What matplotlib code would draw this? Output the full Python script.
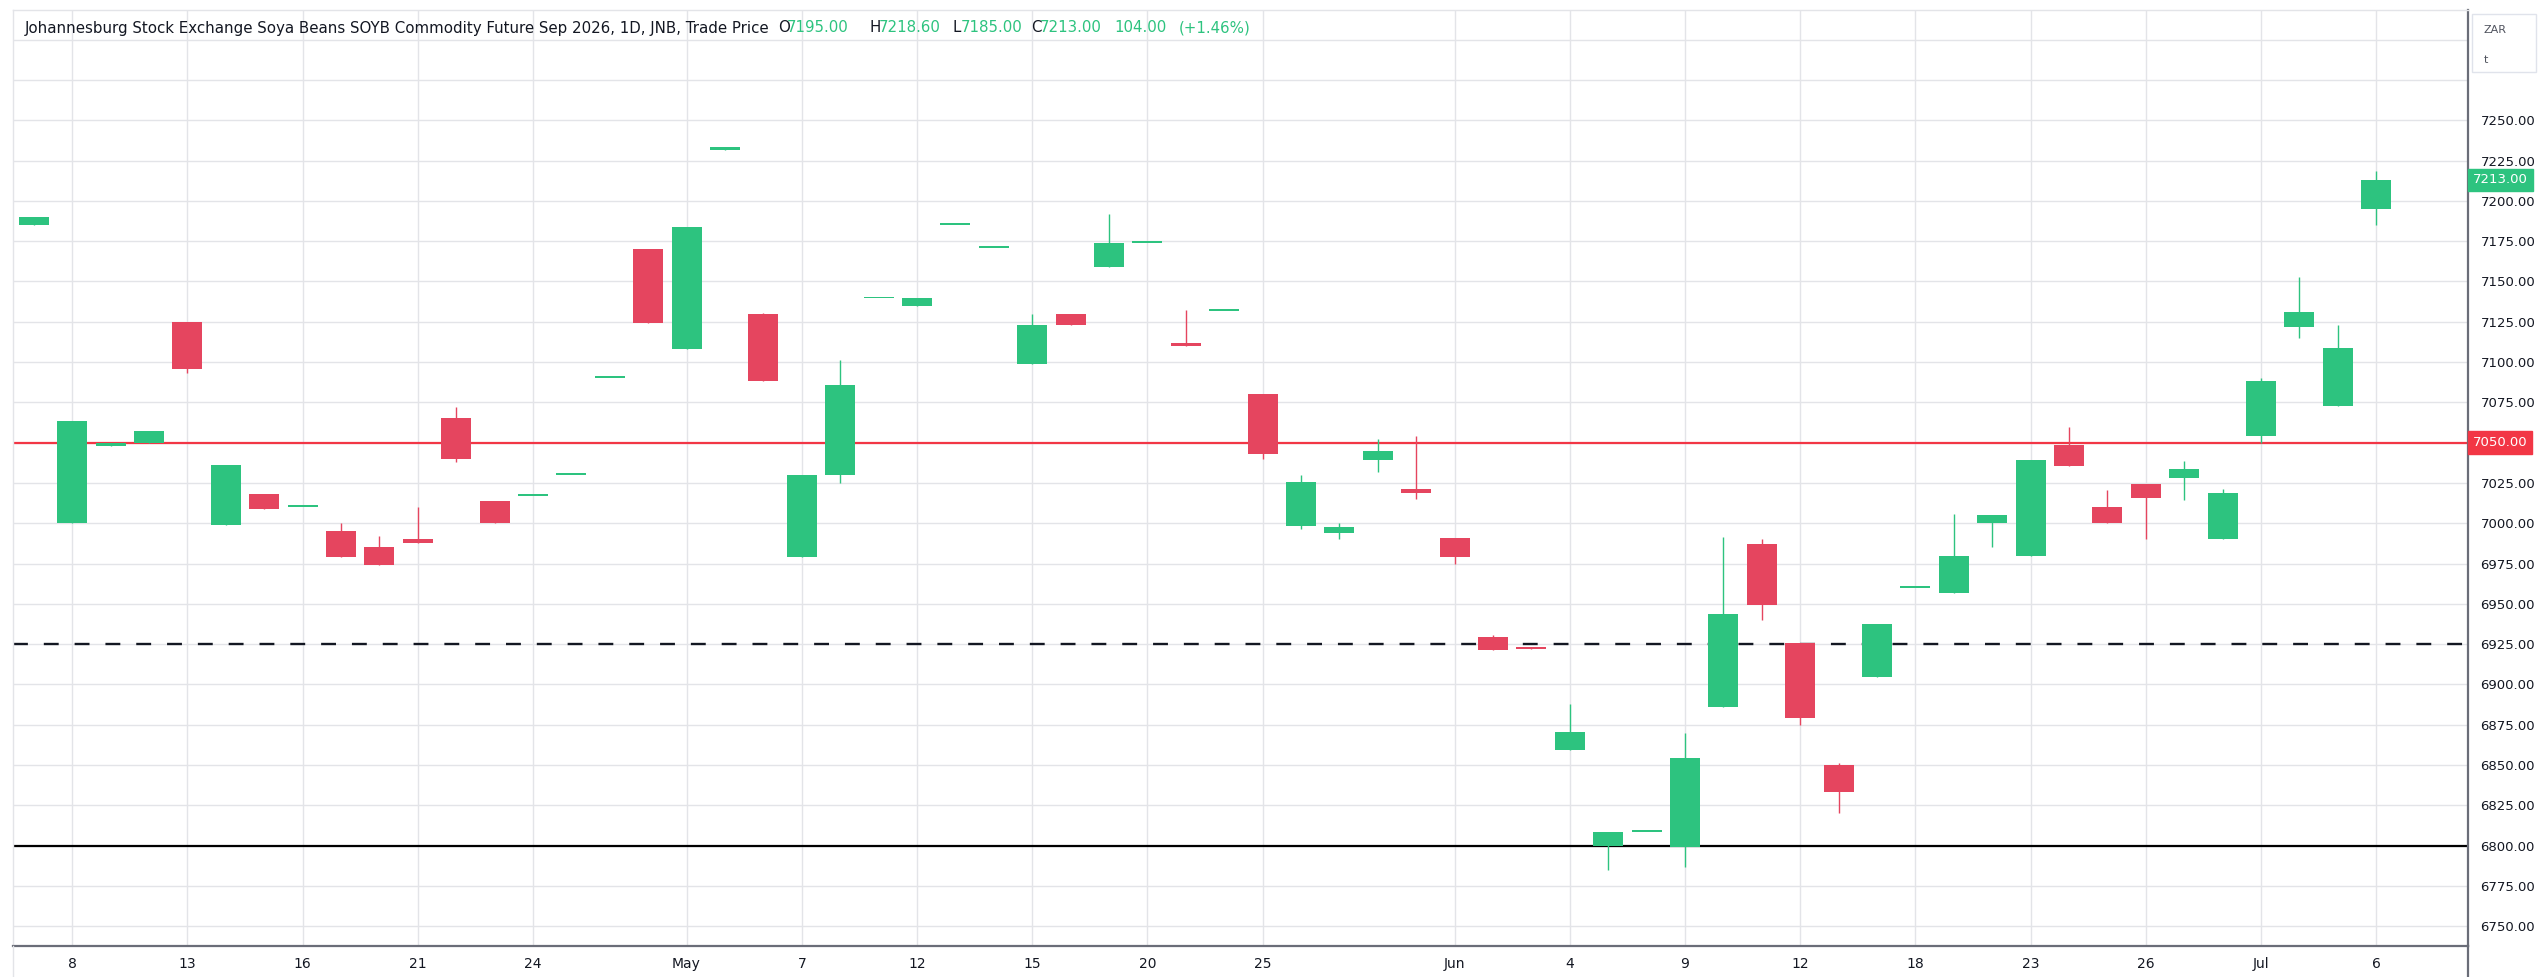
import matplotlib
matplotlib.use("Agg")
import matplotlib.pyplot as plt
import matplotlib.patches as mpatches
from matplotlib.lines import Line2D
import numpy as np

# Daily candles, JSE Soya Beans SOYB Sep 2026 future
dates = ["2026-04-07", "2026-04-08", "2026-04-09", "2026-04-10", "2026-04-13", "2026-04-14",
         "2026-04-15", "2026-04-16", "2026-04-17", "2026-04-20", "2026-04-21", "2026-04-22",
         "2026-04-23", "2026-04-24", "2026-04-28", "2026-04-29", "2026-04-30", "2026-05-04",
         "2026-05-05", "2026-05-06", "2026-05-07", "2026-05-08", "2026-05-11", "2026-05-12",
         "2026-05-13", "2026-05-14", "2026-05-15", "2026-05-18", "2026-05-19", "2026-05-20",
         "2026-05-21", "2026-05-22", "2026-05-25", "2026-05-26", "2026-05-27", "2026-05-28",
         "2026-05-29", "2026-06-01", "2026-06-02", "2026-06-03", "2026-06-04", "2026-06-05",
         "2026-06-08", "2026-06-09", "2026-06-10", "2026-06-11", "2026-06-12", "2026-06-15",
         "2026-06-17", "2026-06-18", "2026-06-19", "2026-06-22", "2026-06-23", "2026-06-24",
         "2026-06-25", "2026-06-26", "2026-06-29", "2026-06-30", "2026-07-01", "2026-07-02",
         "2026-07-03", "2026-07-06"]

opens = [7185, 7000, 7048, 7050, 7125, 6999, 7018, 7010, 6995, 6985.5, 6990, 7065,
         7014, 7017, 7030, 7090, 7170, 7108, 7231.5, 7129.5, 6979, 7030, 7139.5, 7135,
         7185, 7171, 7099, 7129.5, 7159, 7174, 7111.5, 7131.5, 7080, 6998, 6994, 7039,
         7021, 6991, 6929.5, 6923.5, 6859.5, 6799.5, 6808.5, 6799, 6886, 6987, 6925.5, 6850,
         6904.5, 6960, 6957, 7000, 6979.5, 7048.5, 7010, 7024.5, 7028, 6990, 7054, 7121.5,
         7073, 7195]
highs = [7190, 7063.5, 7050, 7057, 7125, 7036, 7018, 7010, 7000, 6992, 7010, 7072,
         7014, 7017, 7030, 7090, 7170, 7184, 7233.5, 7130.5, 7030, 7101, 7139.5, 7140,
         7185, 7171, 7130, 7129.5, 7192, 7174, 7132.5, 7131.5, 7080, 7030, 7000, 7052.5,
         7054, 6991, 6930.5, 6923.5, 6888, 6808.5, 6808.5, 6870, 6991.5, 6990, 6925.5, 6851.5,
         6937.5, 6960, 7005.5, 7005, 7039.5, 7060, 7020.5, 7024.5, 7038.5, 7021.5, 7090, 7153,
         7123, 7218.6]
lows = [7185, 7000, 7048, 7050, 7093, 6999, 7009, 7010, 6979, 6974, 6988, 7038,
        7000, 7017, 7030, 7090, 7124.5, 7108, 7231.5, 7088, 6979, 7025, 7139.5, 7135,
        7185, 7171, 7099, 7123, 7159, 7174, 7110, 7131.5, 7040, 6996.5, 6990, 7032,
        7015, 6975, 6921.5, 6922, 6859.5, 6785, 6808.5, 6787, 6886, 6940, 6874.5, 6820,
        6904.5, 6960, 6957, 6985, 6979.5, 7035.5, 7000, 6990.5, 7014.5, 6990, 7050, 7115,
        7073, 7185]
closes = [7190, 7063.5, 7050, 7057, 7095.5, 7036, 7009, 7010, 6979, 6974, 6988, 7040,
          7000, 7017, 7030, 7090, 7124.5, 7184, 7233.5, 7088, 7030, 7086, 7139.5, 7140,
          7185, 7171, 7123, 7123, 7174, 7174, 7110, 7131.5, 7043, 7025.5, 6997.5, 7045,
          7019, 6979, 6921.5, 6922, 6870.5, 6808.5, 6808.5, 6854.5, 6943.5, 6949.5, 6879, 6833.5,
          6937.5, 6960, 6979.5, 7005, 7039.5, 7035.5, 7000, 7015.5, 7033.5, 7019, 7088, 7131,
          7109, 7213]

tick_days = ["2026-04-08", "2026-04-13", "2026-04-16", "2026-04-21", "2026-04-24", "2026-05-04",
             "2026-05-07", "2026-05-12", "2026-05-15", "2026-05-20", "2026-05-25", "2026-06-01",
             "2026-06-04", "2026-06-09", "2026-06-12", "2026-06-18", "2026-06-23", "2026-06-26",
             "2026-07-01", "2026-07-06"]
tick_labels = ["8", "13", "16", "21", "24", "May", "7", "12", "15", "20", "25", "Jun",
               "4", "9", "12", "18", "23", "26", "Jul", "6"]

price_ticks = np.arange(6750, 7301, 25)
resistance = 7050
middle = 6925
support = 6800
last_price = 7213

UP = "#2dc37f"
DOWN = "#e5455f"
TEXT = "#131722"
GRID = "#e3e4e8"

W, H = 2542, 977
fig = plt.figure(figsize=(W / 100, H / 100), dpi=100)
ax = fig.add_axes([13 / W, 31 / H, (2468 - 13) / W, 936 / H])

x = np.arange(len(dates))
o = np.array(opens)
c = np.array(closes)
colors = [UP if cc >= oo else DOWN for oo, cc in zip(opens, closes)]

# wicks then bodies
ax.vlines(x, lows, highs, colors=colors, lw=1.0, zorder=3)
body_low = np.minimum(o, c)
body_h = np.maximum(np.abs(c - o), 1.1)
ax.bar(x, body_h, bottom=body_low, width=0.78, color=colors, lw=0, zorder=4)

# horizontal levels
ax.axhline(resistance, color="#f23645", lw=1.6, zorder=2)
ax.axhline(middle, color=TEXT, lw=1.7, ls=(0, (6.3, 6.75)), zorder=2)
ax.axhline(support, color="black", lw=1.6, zorder=2)

ax.set_xlim(-0.54, 63.39)
ax.set_ylim(6737.7, 7318.4)

tick_pos = [dates.index(d) for d in tick_days]
ax.set_xticks(tick_pos, tick_labels)
ylabels = []
for v in price_ticks:
    if v > 7250 or v == resistance:
        ylabels.append("")
    else:
        ylabels.append(f"{v:.2f}")
ax.set_yticks(price_ticks, ylabels)
ax.yaxis.tick_right()
ax.tick_params(axis="x", length=0, pad=8, labelsize=10, labelcolor=TEXT)
ax.tick_params(axis="y", length=0, pad=9, labelsize=9.5, labelcolor=TEXT)

ax.grid(True, color=GRID, lw=1.0)
ax.set_axisbelow(True)

for side in ["left", "top"]:
    ax.spines[side].set_color(GRID)
    ax.spines[side].set_linewidth(1.0)
for side in ["right", "bottom"]:
    ax.spines[side].set_color("#6a6d78")
    ax.spines[side].set_linewidth(1.6)

# separator lines running down to the edge
fig.add_artist(Line2D([2468 / W, 2468 / W], [0, 31 / H], color="#6a6d78", lw=1.6))
fig.add_artist(Line2D([13 / W, 13 / W], [0, 31 / H], color=GRID, lw=1.0))

# price badges on the axis
for val, col in [(resistance, "#f23645"), (last_price, UP)]:
    ax.text(1.002, val, f"{val:.2f}", transform=ax.get_yaxis_transform(),
            ha="left", va="center", fontsize=9.5, color="white", zorder=10, clip_on=False,
            bbox=dict(boxstyle="square,pad=0.36", fc=col, ec=col))

# currency box
fig.patches.append(mpatches.Rectangle((2472 / W, 1 - 72 / H), 64 / W, 58 / H,
                                      transform=fig.transFigure, fc="white", ec="#e0e3eb", lw=1))
fig.text(2484 / W, 1 - 30 / H, "ZAR", fontsize=8, color="#50535e", va="center")
fig.text(2484 / W, 1 - 60 / H, "t", fontsize=8, color="#50535e", va="center")

# legend row at the top (start of each piece in pixels)
parts = [("Johannesburg Stock Exchange Soya Beans SOYB Commodity Future Sep 2026, 1D, JNB, Trade Price", TEXT, 25),
         ("O", TEXT, 778), ("7195.00", UP, 787), ("H", TEXT, 870), ("7218.60", UP, 879),
         ("L", TEXT, 952), ("7185.00", UP, 961), ("C", TEXT, 1031), ("7213.00", UP, 1040),
         ("104.00", UP, 1114), ("(+1.46%)", UP, 1179)]
for s, col, px in parts:
    fig.text(px / W, 1 - 28 / H, s, color=col, fontsize=10.8, va="center")

fig.savefig("out.png", dpi=100)
